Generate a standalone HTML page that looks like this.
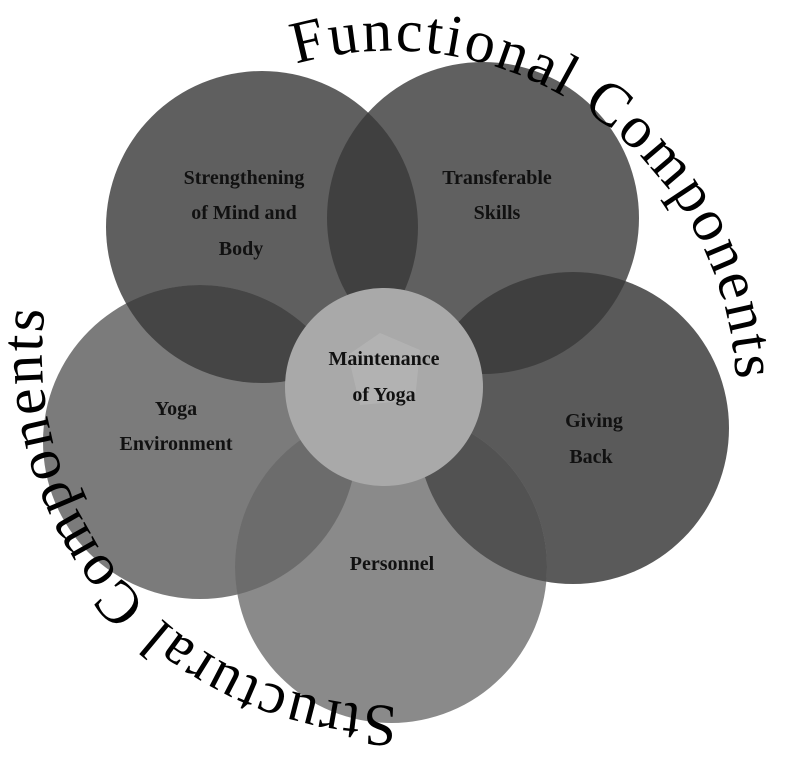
<!DOCTYPE html>
<html><head><meta charset="utf-8"><style>html,body{margin:0;padding:0;background:#fff}</style></head>
<body>
<svg width="788" height="775" viewBox="0 0 788 775" xmlns="http://www.w3.org/2000/svg">
<defs>
<path id="pf" d="M 296 64 A 345 345 0 0 1 736 382"/>
<path id="ps" d="M 397 706 A 352 352 0 0 1 44 316"/>
<clipPath id="cTL"><circle cx="262" cy="227" r="156"/></clipPath>
<clipPath id="cTR"><circle cx="483" cy="218" r="156"/></clipPath>
<clipPath id="cR"><circle cx="573" cy="428" r="156"/></clipPath>
<clipPath id="cL"><circle cx="200" cy="442" r="157"/></clipPath>
<clipPath id="cB"><circle cx="391" cy="567" r="156"/></clipPath>
</defs>
<circle cx="262" cy="227" r="156" fill="#5f5f5f"/>
<circle cx="483" cy="218" r="156" fill="#606060"/>
<circle cx="573" cy="428" r="156" fill="#5a5a5a"/>
<circle cx="200" cy="442" r="157" fill="#7b7b7b"/>
<circle cx="391" cy="567" r="156" fill="#8a8a8a"/>
<g clip-path="url(#cTL)"><circle cx="483" cy="218" r="156" fill="#404040"/><circle cx="200" cy="442" r="157" fill="#454545"/></g>
<g clip-path="url(#cTR)"><circle cx="573" cy="428" r="156" fill="#3f3f3f"/></g>
<g clip-path="url(#cL)"><circle cx="391" cy="567" r="156" fill="#6c6c6c"/></g>
<g clip-path="url(#cR)"><circle cx="391" cy="567" r="156" fill="#525252"/></g>
<circle cx="384" cy="387" r="99" fill="#a9a9a9"/>
<polygon points="380,333 420,350 415,400 360,405 348,355" fill="#b9b9b9" opacity="0.6"/>
<g font-family="Liberation Serif, serif" font-weight="bold" font-size="20" fill="#111" text-anchor="middle">
<text x="244" y="184">Strengthening</text>
<text x="244" y="219">of Mind and</text>
<text x="241" y="255">Body</text>
<text x="497" y="184">Transferable</text>
<text x="497" y="219">Skills</text>
<text x="384" y="365">Maintenance</text>
<text x="384" y="401">of Yoga</text>
<text x="176" y="415">Yoga</text>
<text x="176" y="450">Environment</text>
<text x="594" y="427">Giving</text>
<text x="591" y="463">Back</text>
<text x="392" y="570">Personnel</text>
</g>
<g font-family="Liberation Serif, serif" font-size="60" fill="#000">
<text><textPath href="#pf" textLength="622" lengthAdjust="spacing">Functional Components</textPath></text>
<text><textPath href="#ps" textLength="600" lengthAdjust="spacing">Structural Components</textPath></text>
</g>
</svg>
</body></html>
